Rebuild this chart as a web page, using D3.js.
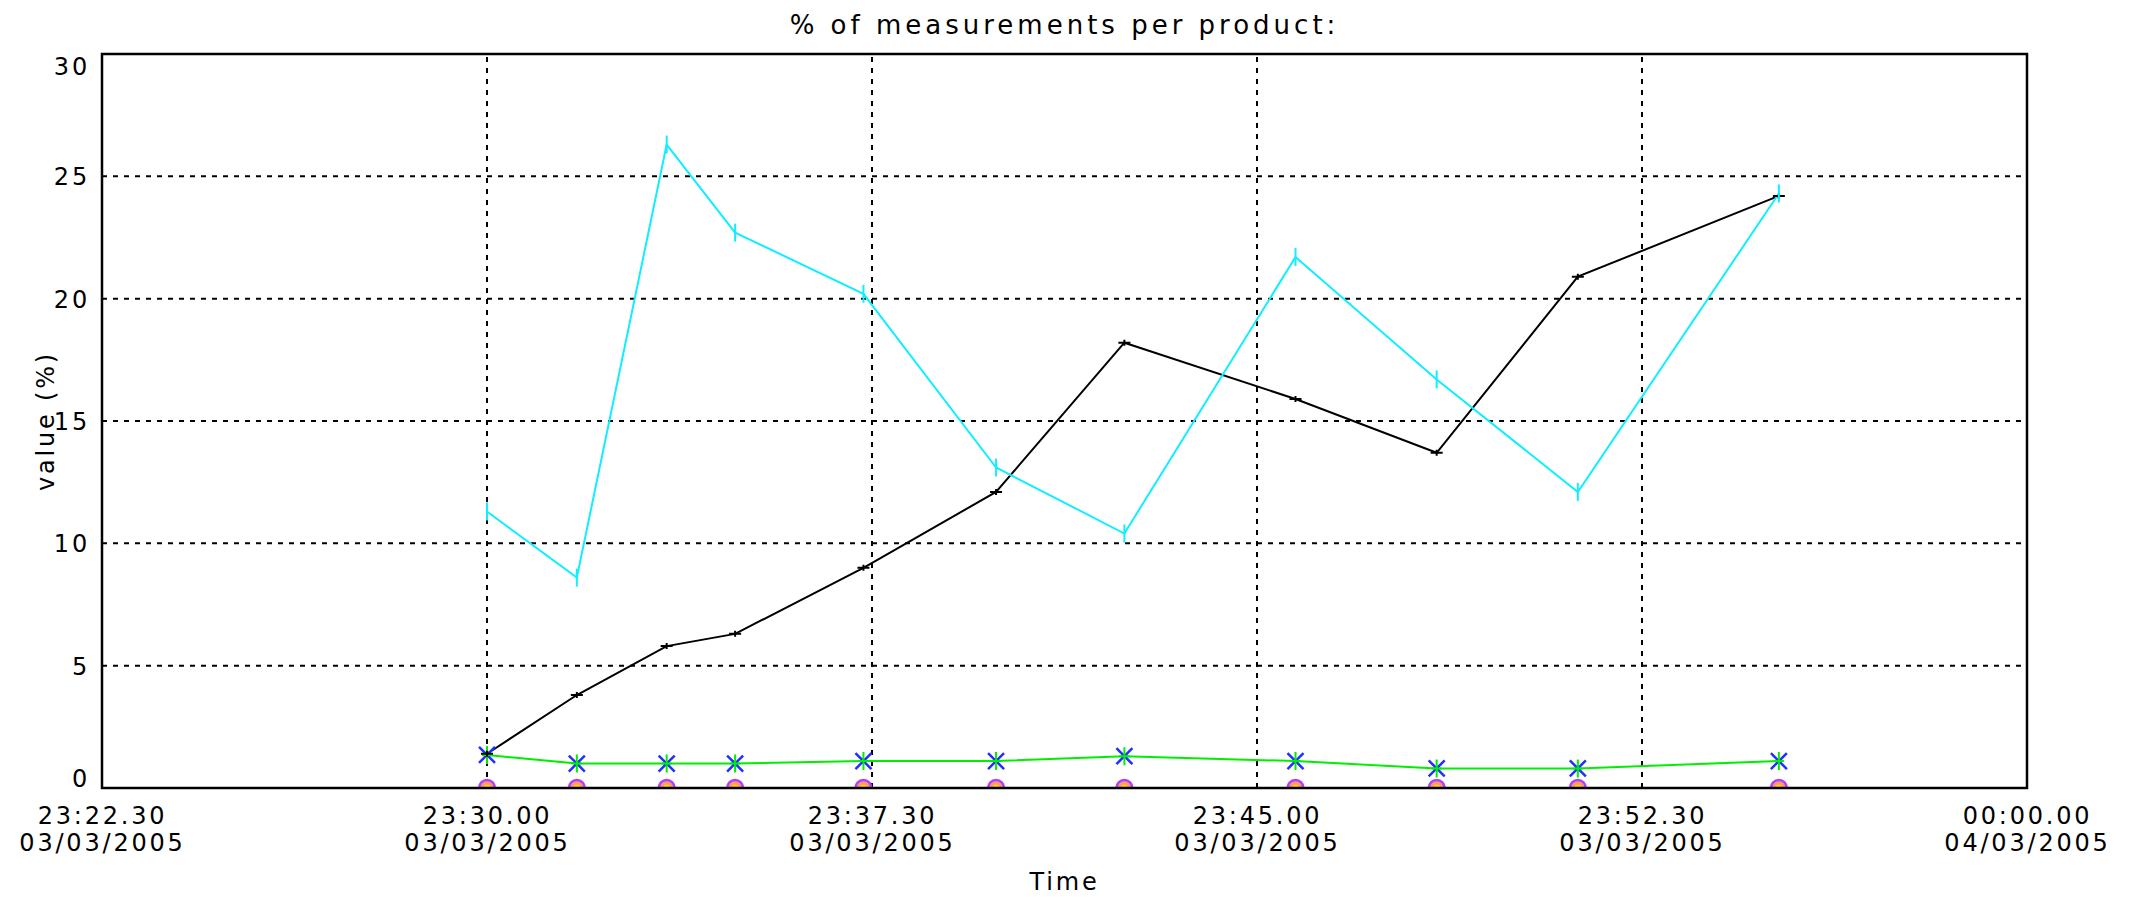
<!DOCTYPE html>
<html>
<head>
<meta charset="utf-8">
<script src="https://cdn.jsdelivr.net/npm/d3@7"></script>
<style>
  body { margin: 0; background: #fff; }
  svg text { font-family: "DejaVu Sans", sans-serif; fill: #000; }
</style>
</head>
<body>
<div id="chart"></div>
<script>
// data
const pointTimes = ["23:30:00", "23:31:45", "23:33:30", "23:34:50", "23:37:20", "23:39:55",
                    "23:42:25", "23:45:45", "23:48:30", "23:51:15", "23:55:10"];
const cyanValues  = [11.3, 8.6, 26.3, 22.7, 20.2, 13.1, 10.4, 21.7, 16.7, 12.1, 24.3];
const blackValues = [1.4, 3.8, 5.8, 6.3, 9.0, 12.1, 18.2, 15.9, 13.7, 20.9, 24.2];
const greenValues = [1.35, 1.0, 1.0, 1.0, 1.1, 1.1, 1.3, 1.1, 0.8, 0.8, 1.1];
const zeroValues  = [0, 0, 0, 0, 0, 0, 0, 0, 0, 0, 0];

const xTickTimes  = ["2005-03-03T23:22:30", "2005-03-03T23:30:00", "2005-03-03T23:37:30",
                     "2005-03-03T23:45:00", "2005-03-03T23:52:30", "2005-03-04T00:00:00"];
const xTickLabels = [["23:22.30", "03/03/2005"], ["23:30.00", "03/03/2005"], ["23:37.30", "03/03/2005"],
                     ["23:45.00", "03/03/2005"], ["23:52.30", "03/03/2005"], ["00:00.00", "04/03/2005"]];
const yTicks = [0, 5, 10, 15, 20, 25, 30];

const W = 2129, H = 910;
const margin = {top: 54, right: 102, bottom: 122, left: 102};
const FS = 24, LS = 2.8;

const svg = d3.select("#chart").append("svg")
	.attr("width", W).attr("height", H);

const parse = s => new Date(s);
const pts = pointTimes.map(t => parse("2005-03-03T" + t));

const x = d3.scaleTime()
	.domain([parse(xTickTimes[0]), parse(xTickTimes[xTickTimes.length - 1])])
	.range([margin.left, W - margin.right]);
const y = d3.scaleLinear()
	.domain([0, 30])
	.range([H - margin.bottom, margin.top]);

// clip so markers on the zero line are cut at the frame
svg.append("defs").append("clipPath").attr("id", "plotclip")
	.append("rect")
	.attr("x", x.range()[0]).attr("y", y.range()[1])
	.attr("width", x.range()[1] - x.range()[0])
	.attr("height", y.range()[0] - y.range()[1]);

// grid
const grid = svg.append("g").attr("class", "grid");
grid.selectAll(".hgrid")
	.data(yTicks.filter(v => v > 0 && v < 30))
	.join("line")
	.attr("x1", x.range()[0]).attr("x2", x.range()[1])
	.attr("y1", d => y(d)).attr("y2", d => y(d))
	.attr("stroke", "#000").attr("stroke-width", 2).attr("stroke-dasharray", "5,6");
grid.selectAll(".vgrid")
	.data(xTickTimes.slice(1, -1).map(parse))
	.join("line")
	.attr("x1", d => x(d)).attr("x2", d => x(d))
	.attr("y1", y.range()[0]).attr("y2", y.range()[1])
	.attr("stroke", "#000").attr("stroke-width", 2).attr("stroke-dasharray", "5,6");

// axes
const yAxis = d3.axisLeft(y).tickValues(yTicks).tickSize(0).tickPadding(12);
svg.append("g")
	.attr("transform", `translate(${margin.left},0)`)
	.call(yAxis)
	.call(g => g.select(".domain").remove())
	.call(g => g.selectAll(".tick text")
		.attr("font-size", FS)
		.attr("letter-spacing", LS)
		.attr("font-family", "DejaVu Sans, sans-serif")
		.attr("dy", d => d === 30 ? "0.85em" : (d === 0 ? "-0.05em" : "0.35em")));

// x tick labels: two separate lines per tick
const xAxis = d3.axisBottom(x).tickValues(xTickTimes.map(parse)).tickSize(0).tickFormat(() => "");
const xg = svg.append("g")
	.attr("transform", `translate(0,${H - margin.bottom})`)
	.call(xAxis)
	.call(g => g.select(".domain").remove());
xg.selectAll(".tick").each(function(d, i) {
	const tick = d3.select(this);
	tick.select("text").remove();
	tick.selectAll(".lbl")
		.data(xTickLabels[i])
		.join("text")
		.attr("class", "lbl")
		.attr("fill", "#000")
		.attr("font-size", FS).attr("letter-spacing", LS)
		.attr("font-family", "DejaVu Sans, sans-serif")
		.attr("text-anchor", "middle")
		.attr("x", 0)
		.attr("y", (s, j) => 36 + j * 27)
		.text(s => s);
});

// lines and markers
const plot = svg.append("g").attr("clip-path", "url(#plotclip)");
const line = d3.line().x((d, i) => x(pts[i])).y(d => y(d));

function drawSeries(values, color) {
	plot.append("path")
		.datum(values)
		.attr("fill", "none")
		.attr("stroke", color)
		.attr("stroke-width", 2)
		.attr("d", line);
}

drawSeries(zeroValues, "#ff8c80");
drawSeries(greenValues, "#00ee00");
drawSeries(blackValues, "#000");
drawSeries(cyanValues, "#11eeff");

// zero series markers: purple ring with orange fill, cut by the frame
plot.selectAll(".zm")
	.data(zeroValues)
	.join("circle")
	.attr("cx", (d, i) => x(pts[i])).attr("cy", d => y(d))
	.attr("r", 8)
	.attr("fill", "#ff9a6a")
	.attr("stroke", "#b040ff").attr("stroke-width", 2.5);
plot.selectAll(".zm2")
	.data(zeroValues)
	.join("circle")
	.attr("cx", (d, i) => x(pts[i])).attr("cy", d => y(d))
	.attr("r", 3.5)
	.attr("fill", "#ffd020");

// green series markers: blue X with green cross
const gm = plot.selectAll(".gm")
	.data(greenValues)
	.join("g")
	.attr("transform", (d, i) => `translate(${x(pts[i])},${y(d)})`);
gm.append("path").attr("d", "M-8,-8L8,8M-8,8L8,-8").attr("stroke", "#2030ff").attr("stroke-width", 2.5);
gm.append("path").attr("d", "M0,-9L0,9M-5,0L5,0").attr("stroke", "#00ee00").attr("stroke-width", 2);

// black series markers: short tick
plot.selectAll(".bm")
	.data(blackValues)
	.join("path")
	.attr("d", (d, i) => `M${x(pts[i]) - 6},${y(d)}L${x(pts[i]) + 6},${y(d)}M${x(pts[i])},${y(d) - 3}L${x(pts[i])},${y(d) + 3}`)
	.attr("stroke", "#000").attr("stroke-width", 2);

// cyan series markers: vertical tick
plot.selectAll(".cm")
	.data(cyanValues)
	.join("path")
	.attr("d", (d, i) => `M${x(pts[i])},${y(d) - 9}L${x(pts[i])},${y(d) + 9}`)
	.attr("stroke", "#11eeff").attr("stroke-width", 2);

// frame
svg.append("rect")
	.attr("x", x.range()[0]).attr("y", y.range()[1])
	.attr("width", x.range()[1] - x.range()[0])
	.attr("height", y.range()[0] - y.range()[1])
	.attr("fill", "none").attr("stroke", "#000").attr("stroke-width", 2.5);

// titles
svg.append("text")
	.attr("x", (x.range()[0] + x.range()[1]) / 2).attr("y", 34)
	.attr("text-anchor", "middle").attr("font-size", 26).attr("letter-spacing", 4)
	.text("% of measurements per product:");
svg.append("text")
	.attr("x", (x.range()[0] + x.range()[1]) / 2).attr("y", 890)
	.attr("text-anchor", "middle").attr("font-size", FS).attr("letter-spacing", LS)
	.text("Time");
svg.append("text")
	.attr("transform", `translate(54,${(y.range()[0] + y.range()[1]) / 2}) rotate(-90)`)
	.attr("text-anchor", "middle").attr("font-size", FS).attr("letter-spacing", LS)
	.text("value (%)");
</script>
</body>
</html>
